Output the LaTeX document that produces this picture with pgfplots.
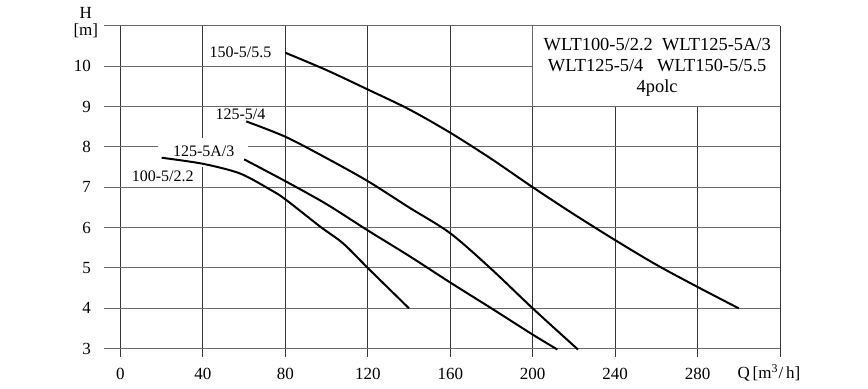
\documentclass[border=0pt]{standalone}
\usepackage{pgfplots}
\pgfplotsset{compat=1.18}
\usepackage{fontspec}
\setmainfont{Liberation Serif}
\definecolor{hgrid}{RGB}{105,105,105}
\definecolor{vgrid}{RGB}{55,55,55}
\begin{document}
\begin{tikzpicture}
\begin{axis}[
  name=ax,
  scale only axis,
  width=338pt, height=165.55pt,
  xmin=-8, xmax=320, ymin=2.8, ymax=11,
  axis line style={draw=none},
  tick style={draw=none},
  xtick={0,40,80,120,160,200,240,280,320},
  xticklabels={0,40,80,120,160,200,240,280,{}},
  ytick={3,4,5,6,7,8,9,10,11},
  yticklabels={3,4,5,6,7,8,9,10,{}},
  grid=major,
  x grid style={vgrid, line width=0.5pt},
  y grid style={hgrid, line width=0.5pt},
  /pgf/number format/assume math mode=true,
  ticklabel style={font=\fontsize{8.5}{10}\selectfont},
  yticklabel style={xshift=-3pt},
  xticklabel style={yshift=-2pt},
  clip=false,
]
% white boxes
\fill[white] (axis cs:18,7.5) rectangle (axis cs:62,8.22);
\fill[white] (axis cs:200,9) rectangle (axis cs:320,11);
\draw[hgrid, line width=0.5pt] (axis cs:200,11) -- (axis cs:200,9) -- (axis cs:320,9);
\draw[vgrid, line width=0.5pt] (axis cs:320,11) -- (axis cs:320,9);

\addplot[black, line width=1pt, smooth] coordinates {
(80,10.33) (100,9.9) (120,9.42) (140,8.93) (160,8.35) (180,7.7) (200,7.0) (220,6.33) (240,5.69) (260,5.08) (280,4.53) (300,4.0)};
\addplot[black, line width=1pt, smooth] coordinates {
(61,8.63) (80,8.25) (100,7.72) (120,7.15) (140,6.5) (160,5.86) (180,4.97) (200,4.0) (222,2.98)};
\addplot[black, line width=1pt, smooth] coordinates {
(60,7.69) (80,7.15) (100,6.58) (120,5.93) (140,5.3) (160,4.64) (180,4.0) (200,3.35) (212,2.98)};
\addplot[black, line width=1pt, smooth] coordinates {
(20,7.73) (40,7.58) (58,7.34) (73,6.93) (80,6.7) (97,6.02) (108,5.61) (120,5.0) (140,4.0)};

\node[font=\fontsize{8}{9}\selectfont] at (axis cs:58.2,10.35) {150-5/5.5};
\node[font=\fontsize{8}{9}\selectfont] at (axis cs:58.2,8.81) {125-5/4};
\node[font=\fontsize{8}{9}\selectfont] at (axis cs:40.4,7.9) {125-5A/3};
\node[font=\fontsize{8}{9}\selectfont] at (axis cs:20.5,7.26) {100-5/2.2};

\node[align=center, font=\fontsize{9.2}{10.4}\selectfont] at (axis cs:260.4,9.97)
  {WLT100-5/2.2\ \ WLT125-5A/3\\WLT125-5/4\ \ \ WLT150-5/5.5\\4polc};

\node[align=center, font=\fontsize{8.5}{8.5}\selectfont] at (axis cs:-16.8,11.08) {H\\{[}m{]}};
\node[anchor=west, font=\fontsize{8.5}{10}\selectfont] at (axis cs:296,2.4) {Q\,[m\textsuperscript{3}/\,h]};
\end{axis}
\pgfresetboundingbox
\path[use as bounding box] (ax.south west) ++(-52pt,-15.6pt) rectangle ++(434pt,194pt);
\end{tikzpicture}
\end{document}
